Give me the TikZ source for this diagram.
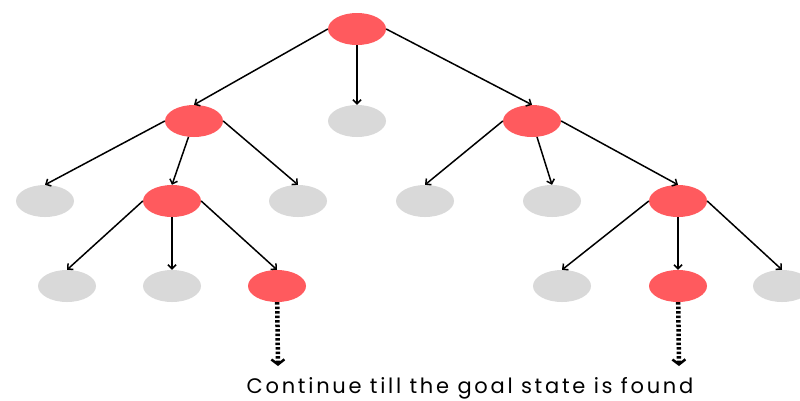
\documentclass[tikz,border=0pt]{standalone}
\usepackage{fontspec}
\setmainfont{Poppins}
\newfontfamily\notefont[LetterSpace = 13]{Poppins}
\usepackage{tikz}
\usetikzlibrary{shapes, arrows.meta, positioning}

\definecolor{statered}{RGB}{255,90,94}
\definecolor{stategray}{RGB}{217,217,217}

\tikzset{
  redstate/.style = {ellipse, fill = statered, minimum width = 58pt, minimum height = 32pt, inner sep = 0pt},
  graystate/.style = {ellipse, fill = stategray, minimum width = 58pt, minimum height = 32pt, inner sep = 0pt},
  edge/.style = {line width = 1.5pt, -{Straight Barb[length = 4pt, width = 8pt]}},
  goon/.style = {line width = 4.5pt, dash pattern = on 2.5pt off 2pt, -{Straight Barb[length = 5pt, width = 13pt, line width = 2.5pt]}}
}

\begin{document}
\begin{tikzpicture}[x = 1pt, y = -1pt]
  \useasboundingbox (0, 0) rectangle (800, 400);

  % root and first level
  \node[redstate] (R) at (357, 29) {};
  \node[redstate] (A) at (194, 121) {};
  \node[graystate] (B) at (357, 121) {};
  \node[redstate] (C) at (532, 121) {};
  \draw[edge] (R.west) -- (A.north);
  \draw[edge] (R) -- (B.north);
  \draw[edge] (R.east) -- (C.north);

  % second level
  \node[graystate] (AA) at (45, 201) {};
  \node[redstate] (AB) at (172, 201) {};
  \node[graystate] (AC) at (298, 201) {};
  \node[graystate] (CA) at (425, 201) {};
  \node[graystate] (CB) at (552, 201) {};
  \node[redstate] (CC) at (678, 201) {};
  \draw[edge] (A.west) -- (AA.north);
  \draw[edge] (A) -- (AB.north);
  \draw[edge] (A.east) -- (AC.north);
  \draw[edge] (C.west) -- (CA.north);
  \draw[edge] (C) -- (CB.north);
  \draw[edge] (C.east) -- (CC.north);

  % third level
  \node[graystate] (ABA) at (67, 286) {};
  \node[graystate] (ABB) at (172, 286) {};
  \node[redstate] (ABC) at (277, 286) {};
  \node[graystate] (CCA) at (562, 286) {};
  \node[redstate] (CCB) at (678, 286) {};
  \node[graystate] (CCC) at (782, 286) {};
  \draw[edge] (AB.west) -- (ABA.north);
  \draw[edge] (AB) -- (ABB.north);
  \draw[edge] (AB.east) -- (ABC.north);
  \draw[edge] (CC.west) -- (CCA.north);
  \draw[edge] (CC) -- (CCB.north);
  \draw[edge] (CC.east) -- (CCC.north);

  % keep searching
  \coordinate (goA) at (278, 366);
  \coordinate (goB) at (679, 366);
  \draw[goon] (ABC) -- (goA);
  \draw[goon] (CCB) -- (goB);

  \node (note) at (470, 388) {\notefont\fontsize{21}{25}\selectfont Continue till the goal state is found};
\end{tikzpicture}
\end{document}
